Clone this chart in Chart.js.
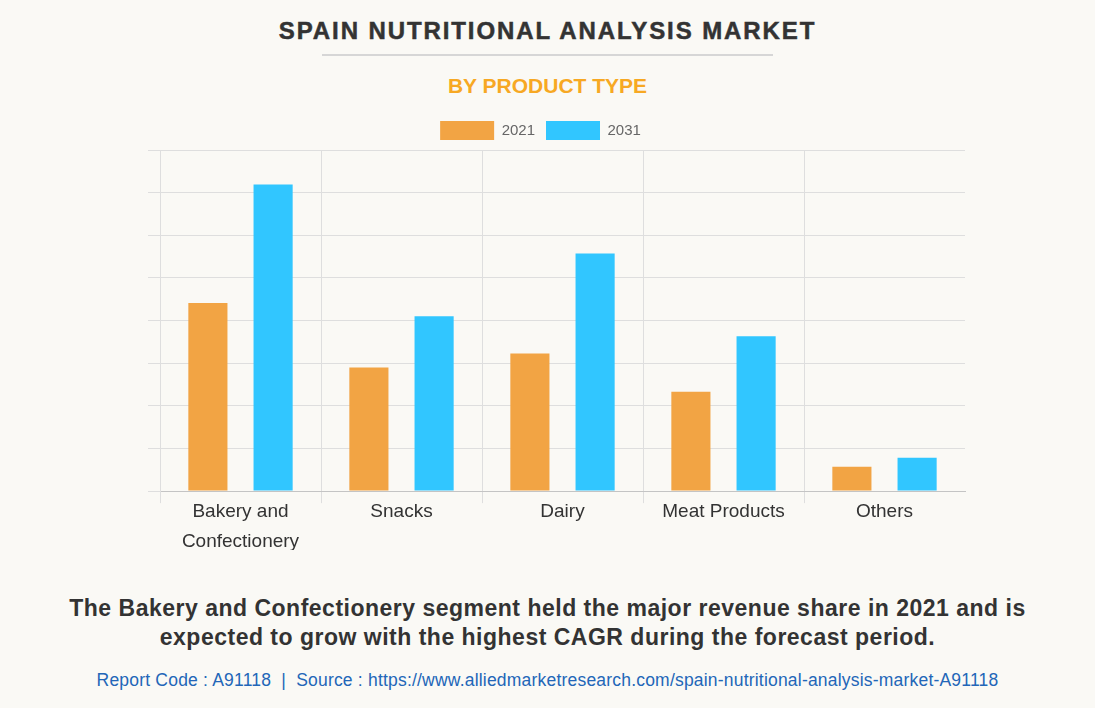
<!DOCTYPE html>
<html>
<head>
<meta charset="utf-8">
<script src="https://cdn.jsdelivr.net/npm/chart.js@4.4.0/dist/chart.umd.min.js"></script>
<style>
  html, body { margin: 0; padding: 0; background: #faf9f5; }
  body { width: 1095px; height: 708px; position: relative; overflow: hidden; font-family: "Liberation Sans", Arial, sans-serif; }
  #title { position: absolute; top: 17px; left: 0; width: 1095px; text-align: center; font-size: 24px; font-weight: 900; color: #333; letter-spacing: 1.9px; -webkit-text-stroke: 0.5px #333; }
  #rule { position: absolute; top: 54px; left: 322px; width: 451px; height: 2px; background: #d6d6d6; }
  #subtitle { position: absolute; top: 74px; left: 0; width: 1095px; text-align: center; font-size: 21px; font-weight: bold; color: #f7a823; }
  #wrap { position: absolute; top: 110px; left: 0; width: 1095px; height: 450px; }
  #note { position: absolute; top: 594px; left: 0; width: 1095px; text-align: center; font-size: 23px; font-weight: bold; color: #333; line-height: 29px; letter-spacing: 0.5px; }
  #source { position: absolute; top: 670px; left: 0; width: 1095px; text-align: center; font-size: 17.5px; color: #2266b8; letter-spacing: 0.2px; }
</style>
</head>
<body>
<div id="title">SPAIN NUTRITIONAL ANALYSIS MARKET</div>
<div id="rule"></div>
<div id="subtitle">BY PRODUCT TYPE</div>
<div id="wrap"><canvas id="marketChart"></canvas></div>
<div id="note">The Bakery and Confectionery segment held the major revenue share in 2021 and is<br>expected to grow with the highest CAGR during the forecast period.</div>
<div id="source">Report Code : A91118&nbsp; |&nbsp; Source : https://www.alliedmarketresearch.com/spain-nutritional-analysis-market-A91118</div>

<script>
// カテゴリと系列データ
var categories = [['Bakery and', 'Confectionery'], 'Snacks', 'Dairy', 'Meat Products', 'Others'];
var values2021 = [4.41, 2.90, 3.23, 2.33, 0.57];
var values2031 = [7.19, 4.10, 5.57, 3.63, 0.78];
var yTicks = [0, 1, 2, 3, 4, 5, 6, 7, 8];

var ctx = document.getElementById('marketChart').getContext('2d');

new Chart(ctx, {
  type: 'bar',
  data: {
    labels: categories,
    datasets: [{
      label: '2021',
      data: values2021,
      backgroundColor: '#f2a444',
      categoryPercentage: 0.81,
      barPercentage: 0.6
    }, {
      label: '2031',
      data: values2031,
      backgroundColor: '#31c6ff',
      categoryPercentage: 0.81,
      barPercentage: 0.6
    }]
  },
  options: {
    responsive: true,
    maintainAspectRatio: false,
    animation: false,
    layout: { padding: { left: 116, right: 130, top: 0, bottom: 10 } },
    plugins: {
      legend: {
        labels: {
          boxWidth: 54,
          boxHeight: 19,
          padding: 11,
          color: '#666',
          font: { family: 'Liberation Sans, Arial, sans-serif', size: 15 }
        }
      },
      tooltip: { enabled: false }
    },
    scales: {
      x: {
        grid: {
          // 右端の縦線（tick のない最後の線）は描かない
          color: function(c) { return c.tick === undefined ? 'rgba(0,0,0,0)' : '#dedede'; },
          tickLength: 12,
          offset: true
        },
        border: { color: '#c4c4c4' },
        ticks: {
          color: '#333',
          padding: -6,
          font: { family: 'Liberation Sans, Arial, sans-serif', size: 19, lineHeight: 1.55 },
          maxRotation: 0
        }
      },
      y: {
        min: yTicks[0],
        max: yTicks[yTicks.length - 1],
        afterFit: function(scale) { scale.width = 44; }, // 軸位置を x=160 に合わせる
        grid: { color: '#dedede', tickLength: 12 },
        border: { color: '#dedede' },
        ticks: { display: false, stepSize: 1 }
      }
    }
  }
});
</script>
</body>
</html>
